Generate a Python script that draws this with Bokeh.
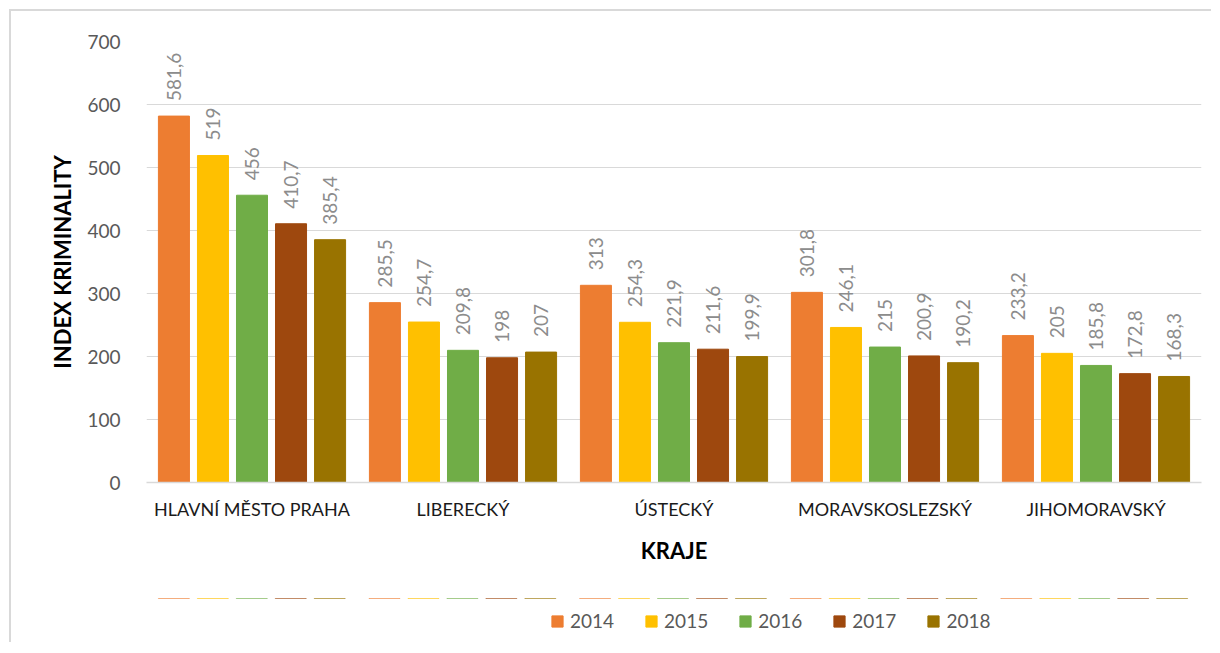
import math
from bokeh.plotting import figure
from bokeh.layouts import column
from bokeh.models import ColumnDataSource, FactorRange, Range1d, LabelSet, Legend, LegendItem, FixedTicker
from bokeh.core.properties import value
from bokeh.transform import dodge
from bokeh.embed import file_html
from bokeh.resources import INLINE

regions = ["HLAVNÍ MĚSTO PRAHA", "LIBERECKÝ", "ÚSTECKÝ", "MORAVSKOSLEZSKÝ", "JIHOMORAVSKÝ"]
years = ["2014", "2015", "2016", "2017", "2018"]
v2014 = [581.6, 285.5, 313, 301.8, 233.2]
v2015 = [519, 254.7, 254.3, 246.1, 205]
v2016 = [456, 209.8, 221.9, 215, 185.8]
v2017 = [410.7, 198, 211.6, 200.9, 172.8]
v2018 = [385.4, 207, 199.9, 190.2, 168.3]
colors = ["#ED7D31", "#FFC000", "#70AD47", "#9E480E", "#997300"]
y_ticks = [0, 100, 200, 300, 400, 500, 600, 700]

series = [v2014, v2015, v2016, v2017, v2018]


def fmt(v):
    if float(v).is_integer():
        return str(int(v))
    return ("%.1f" % v).replace(".", ",")


data = {"regions": regions}
for yr, vals in zip(years, series):
    data["v" + yr] = vals
    data["l" + yr] = [fmt(v) for v in vals]
src = ColumnDataSource(data)

FONT = "Lato"

p = figure(x_range=FactorRange(*regions), y_range=Range1d(0, 700),
           frame_width=1053, frame_height=439,
           min_border_left=135, min_border_top=30, min_border_right=12, min_border_bottom=118,
           output_backend="svg", toolbar_location=None)
p.margin = (9, 0, 0, 9)
p.styles = {"border-top": "2px solid #d9d9d9", "border-left": "2px solid #d9d9d9"}

p.outline_line_color = None
p.xgrid.grid_line_color = None
p.ygrid.grid_line_color = "#d9d9d9"
p.ygrid.grid_line_width = 1
p.yaxis.ticker = FixedTicker(ticks=y_ticks)
p.yaxis.axis_line_color = None
p.yaxis.major_tick_line_color = None
p.yaxis.minor_tick_line_color = None
p.yaxis.major_label_text_font = FONT
p.yaxis.major_label_text_font_size = "19px"
p.yaxis.major_label_text_color = "#595959"
p.yaxis.major_label_standoff = 20
p.yaxis.axis_label = "INDEX KRIMINALITY"
p.yaxis.axis_label_text_font = FONT
p.yaxis.axis_label_text_font_style = "bold"
p.yaxis.axis_label_text_font_size = "22px"
p.yaxis.axis_label_text_color = "#000000"
p.yaxis.axis_label_standoff = 8

p.xaxis.axis_line_color = "#d9d9d9"
p.xaxis.axis_line_width = 1.5
p.xaxis.major_tick_line_color = None
p.xaxis.minor_tick_line_color = None
p.xaxis.major_label_text_font = FONT
p.xaxis.major_label_text_font_size = "18px"
p.xaxis.major_label_text_color = "#1a1a1a"
p.xaxis.major_label_standoff = 9
p.xaxis.axis_label = "KRAJE"
p.xaxis.axis_label_text_font = FONT
p.xaxis.axis_label_text_font_style = "bold"
p.xaxis.axis_label_text_font_size = "22px"
p.xaxis.axis_label_text_color = "#000000"
p.xaxis.axis_label_standoff = 14

# legend strip below the chart
p2 = figure(x_range=FactorRange(*regions), y_range=Range1d(-20, -10),
            width=1200, height=44, min_border=0, x_axis_type=None, y_axis_type=None,
            output_backend="svg", toolbar_location=None)
p2.margin = (0, 0, 0, 9)
p2.styles = {"border-left": "2px solid #d9d9d9"}
p2.outline_line_color = None

width = 0.147
pitch = 0.185
items = []
for i, yr in enumerate(years):
    off = (i - 2) * pitch
    p.vbar(x=dodge("regions", off, range=p.x_range), top="v" + yr, width=width,
           fill_color=colors[i], line_color=colors[i], source=src)
    lab = LabelSet(x=dodge("regions", off, range=p.x_range), y="v" + yr, text="l" + yr,
                   source=src, angle=math.pi / 2, text_align="left", text_baseline="middle",
                   y_offset=15, text_font=value(FONT), text_font_size=value("19px"),
                   text_color=value("#8c8c8c"))
    p.add_layout(lab)
    r2 = p2.vbar(x=dodge("regions", off, range=p2.x_range), top="v" + yr, width=width,
                 fill_color=colors[i], line_color=colors[i], source=src)
    items.append(LegendItem(label=yr, renderers=[r2]))

legend = Legend(items=items, orientation="horizontal", location=(404, 10),
                glyph_width=14, glyph_height=14, label_standoff=6, spacing=30,
                padding=0, margin=0, border_line_color=None, background_fill_alpha=0,
                label_text_font=FONT, label_text_font_size="19px", label_text_color="#595959")
p2.add_layout(legend)

layout = column(p, p2, spacing=0)

open("out.html", "w").write(file_html(layout, INLINE))
